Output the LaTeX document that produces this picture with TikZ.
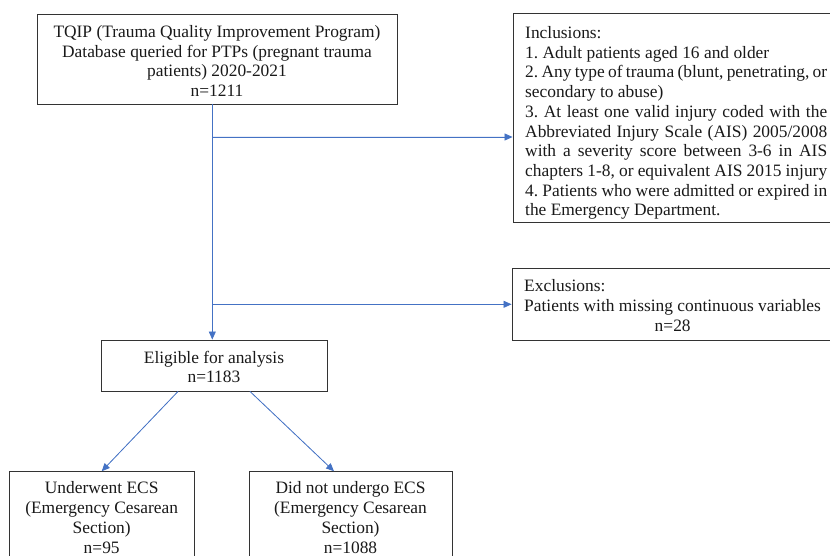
\documentclass[tikz,border=0pt]{standalone}
\usepackage{fontspec}
\setmainfont{Liberation Serif}
\usetikzlibrary{arrows.meta}
\definecolor{arrowblue}{HTML}{4472C4}
\newcommand\jline[1]{\makebox[302pt][s]{#1}}
\frenchspacing
\begin{document}
\begin{tikzpicture}[x=1pt,y=-1pt,
  bx/.style={draw=black!80, line width=0.9pt, inner sep=0pt},
  txt/.style={inner sep=0pt, font=\fontsize{17.4}{19.7}\selectfont\frenchspacing, text=black!90},
  arr/.style={draw=arrowblue, line width=0.8pt, -{Triangle[length=8pt,width=7pt]}, fill=arrowblue}]
\useasboundingbox (0,0) rectangle (830,556);
% boxes
\node[bx, minimum width=360pt, minimum height=90pt] (top) at (217,59) {};
\node[txt, align=center] (topt) at (217,61) {TQIP (Trauma Quality Improvement Program)\\Database queried for PTPs (pregnant trauma\\patients) 2020-2021\\n=1211};

\node[bx, minimum width=327pt, minimum height=209pt] (incl) at (676.5,117.5) {};
\begin{scope}
\clip (513,13) rectangle (840,219.5);
\node[txt, anchor=west, align=left] (inclt) at (525,123) {Inclusions:\\
1. Adult patients aged 16 and older\\
\jline{2. Any type of trauma (blunt, penetrating, or}\\
secondary to abuse)\\
\jline{3. At least one valid injury coded with the}\\
\jline{Abbreviated Injury Scale (AIS) 2005/2008}\\
\jline{with a severity score between 3-6 in AIS}\\
\jline{chapters 1-8, or equivalent AIS 2015 injury}\\
\jline{4. Patients who were admitted or expired in}\\
the Emergency Department.};
\end{scope}

\node[bx, minimum width=328pt, minimum height=72pt] (excl) at (676,304) {};
\node[txt, anchor=west, align=left] (exclt) at (524,305.6) {Exclusions:\\Patients with missing continuous variables\\\makebox[297pt]{n=28}};

\node[bx, minimum width=226pt, minimum height=51pt] (elig) at (214,365.5) {};
\node[txt, align=center] (eligt) at (214,367) {Eligible for analysis\\n=1183};

\node[bx, minimum width=184.7pt, minimum height=128.3pt] (ecs) at (101.7,535.85) {};
\node[txt, align=center] (ecst) at (101.7,517.5) {Underwent ECS\\(Emergency Cesarean\\Section)\\n=95};

\node[bx, minimum width=203pt, minimum height=128.3pt] (noecs) at (350.5,535.85) {};
\node[txt, align=center] (noecst) at (350.5,517.5) {Did not undergo ECS\\(Emergency Cesarean\\Section)\\n=1088};

% connectors
\coordinate (v) at (212.3,0);
\coordinate (j1) at (212.3,137);
\coordinate (j2) at (212.3,304.3);
\coordinate (d1) at (178,0);
\coordinate (d2) at (250,0);
\coordinate (d3) at (334,0);
\draw[arr] (top.south -| v) -- (v |- elig.north);
\draw[arr] (j1) -- (j1 -| incl.west);
\draw[arr] (j2) -- (j2 -| excl.west);
\draw[arr] (elig.south -| d1) -- (ecs.north);
\draw[arr] (elig.south -| d2) -- (noecs.north -| d3);
\end{tikzpicture}
\end{document}
